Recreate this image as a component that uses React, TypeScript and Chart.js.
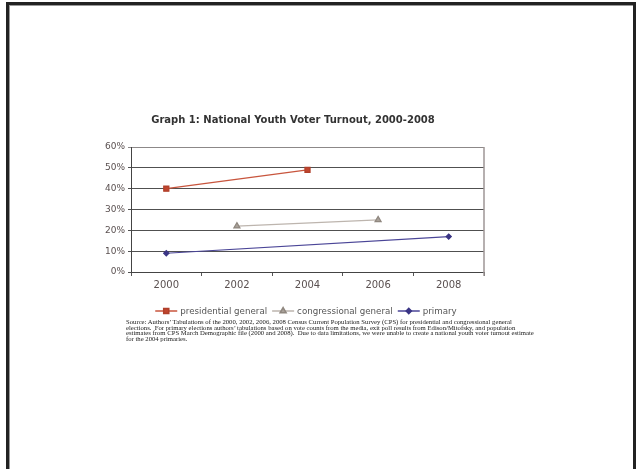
import React, { useEffect, useRef } from "react";
import { Chart, registerables } from "chart.js";
import { drawPoint } from "chart.js/helpers";

Chart.register(...registerables);

const years = ["2000", "2002", "2004", "2006", "2008"];
const presidentialGeneral = [40, null, 49, null, null];
const congressionalGeneral = [null, 22, null, 25, null];
const primary = [9, null, null, null, 17];
const seriesNames = ["presidential general", "congressional general", "primary"];
const yMax = 60;
const yStep = 10;

const titleText = "Graph 1: National Youth Voter Turnout, 2000-2008";
const sourceLines = [
  "Source: Authors\u2019 Tabulations of the 2000, 2002, 2006, 2008 Census Current Population Survey (CPS) for presidential and congressional general",
  "elections.  For primary elections authors\u2019 tabulations based on vote counts from the media, exit poll results from Edison/Mitofsky, and population",
  "estimates from CPS March Demographic file (2000 and 2008).  Due to data limitations, we were unable to create a national youth voter turnout estimate",
  "for the 2004 primaries.",
];

const W = 636;
const H = 469;

const lineLegend = {
  id: "lineLegend",
  afterDraw(chart: any) {
    const ctx = chart.ctx;
    ctx.save();
    ctx.font = "8.7px 'DejaVu Sans'";
    const lineW = 22;
    const gapT = 3;
    const gapI = 5;
    const items = chart.data.datasets.map((ds: any) => ({ ds, w: ctx.measureText(ds.label).width }));
    const total =
      items.reduce((s: number, it: any) => s + lineW + gapT + it.w, 0) + gapI * (items.length - 1);
    let x = 306 - total / 2;
    const y = 311;
    items.forEach(({ ds, w }: any) => {
      ctx.strokeStyle = ds.borderColor;
      ctx.lineWidth = 1.5;
      ctx.beginPath();
      ctx.moveTo(x, y);
      ctx.lineTo(x + lineW, y);
      ctx.stroke();
      ctx.fillStyle = ds.pointBackgroundColor;
      ctx.strokeStyle = ds.pointBorderColor;
      drawPoint(
        ctx,
        { pointStyle: ds.pointStyle, radius: ds.pointRadius, rotation: 0, borderWidth: 1 },
        x + lineW / 2,
        y
      );
      ctx.fillStyle = "#555555";
      ctx.textBaseline = "middle";
      ctx.textAlign = "left";
      ctx.fillText(ds.label, x + lineW + gapT, y + 0.5);
      x += lineW + gapT + w + gapI;
    });
    ctx.restore();
  },
};

const rightBorder = {
  id: "rightBorder",
  afterDraw(chart: any) {
    const { ctx, chartArea } = chart;
    ctx.save();
    ctx.strokeStyle = "#9e9696";
    ctx.lineWidth = 1.5;
    ctx.beginPath();
    ctx.moveTo(chartArea.right, chartArea.top);
    ctx.lineTo(chartArea.right, chartArea.bottom + 4);
    ctx.stroke();
    ctx.restore();
  },
};

export default function App() {
  const ref = useRef<HTMLCanvasElement>(null);

  useEffect(() => {
    if (!ref.current) return;
    const chart = new Chart(ref.current, {
      type: "line",
      data: {
        labels: years,
        datasets: [
          {
            label: seriesNames[0],
            data: presidentialGeneral,
            borderColor: "#c8553d",
            backgroundColor: "#c0452e",
            pointBackgroundColor: "#c0452e",
            pointBorderColor: "#b03f2a",
            pointStyle: "rect",
            pointRadius: 3.6,
            borderWidth: 1.2,
            spanGaps: true,
          },
          {
            label: seriesNames[1],
            data: congressionalGeneral,
            borderColor: "#bdb5ae",
            backgroundColor: "#a9a199",
            pointBackgroundColor: "#a9a199",
            pointBorderColor: "#8f877f",
            pointStyle: "triangle",
            pointRadius: 3.5,
            borderWidth: 1.2,
            spanGaps: true,
          },
          {
            label: seriesNames[2],
            data: primary,
            borderColor: "#4a4597",
            backgroundColor: "#3a3585",
            pointBackgroundColor: "#3a3585",
            pointBorderColor: "#3a3585",
            pointStyle: "rectRot",
            pointRadius: 2.6,
            borderWidth: 1.2,
            spanGaps: true,
          },
        ],
      },
      options: {
        responsive: false,
        animation: false,
        devicePixelRatio: 1,
        layout: {
          padding: { left: 91, top: 147, right: W - 484, bottom: H - 272 - 24 },
        },
        plugins: {
          legend: { display: false },
          title: { display: false },
          tooltip: { enabled: false },
        },
        scales: {
          x: {
            type: "category",
            offset: true,
            afterFit: (s: any) => {
              s.height = 24;
            },
            grid: {
              offset: true,
              drawOnChartArea: false,
              drawTicks: true,
              tickLength: 4,
              color: "#555555",
            },
            border: { color: "#444444", width: 1 },
            ticks: {
              color: "#5a5050",
              padding: 3,
              font: { family: "'DejaVu Sans'", size: 10 },
            },
          },
          y: {
            min: 0,
            max: yMax,
            afterFit: (s: any) => {
              s.width = 40;
            },
            grid: {
              color: (c: any) => (c.tick && c.tick.value === yMax ? "#8c8888" : "#505050"),
              tickLength: 3,
              drawTicks: true,
            },
            border: { color: "#444444", width: 1 },
            ticks: {
              stepSize: yStep,
              padding: 3,
              color: "#5a5050",
              font: { family: "'DejaVu Sans'", size: 9 },
              callback: (v: any) => `${v}%`,
            },
          },
        },
      },
      plugins: [lineLegend, rightBorder],
    });
    return () => chart.destroy();
  }, []);

  return (
    <div
      style={{
        position: "fixed",
        left: 0,
        top: 0,
        width: W,
        height: H,
        background: "#ffffff",
        overflow: "hidden",
      }}
    >
      <div
        style={{
          position: "absolute",
          left: 6,
          top: 2,
          width: 624,
          height: H + 20,
          borderLeft: "3px solid #222222",
          borderTop: "3px solid #222222",
          borderRight: "3px solid #222222",
          boxShadow: "inset 1px 1px 0 #999999",
        }}
      />
      <canvas
        ref={ref}
        width={W}
        height={H}
        style={{ position: "absolute", left: 0, top: 0, width: W, height: H }}
      />
      <div
        style={{
          position: "absolute",
          left: 0,
          width: 586,
          top: 113,
          textAlign: "center",
          fontFamily: "'DejaVu Sans'",
          fontWeight: "bold",
          fontSize: 10,
          lineHeight: "14px",
          color: "#333333",
          whiteSpace: "pre",
        }}
      >
        {titleText}
      </div>
      <div
        style={{
          position: "absolute",
          left: 126,
          top: 319,
          fontFamily: "'Liberation Serif'",
          fontSize: 6.7,
          lineHeight: "5.5px",
          color: "#1a1a1a",
          whiteSpace: "pre",
        }}
      >
        {sourceLines.map((l, i) => (
          <div key={i}>{l}</div>
        ))}
      </div>
    </div>
  );
}
